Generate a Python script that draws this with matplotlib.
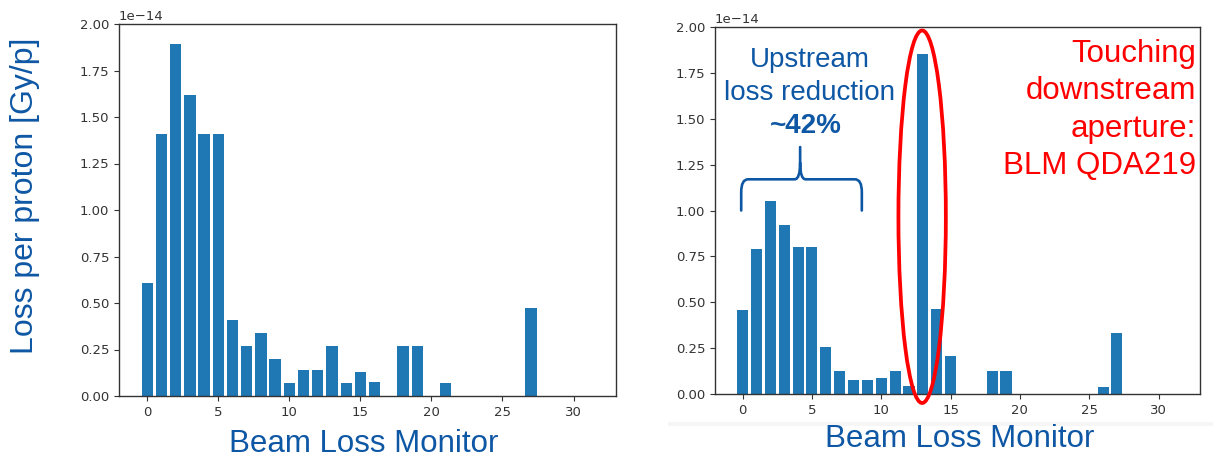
import numpy as np
import matplotlib
matplotlib.use("Agg")
import matplotlib.pyplot as plt
from matplotlib.patches import Ellipse, Rectangle, PathPatch
from matplotlib.path import Path

# ---- data (values in units of 1e-14 Gy/p) ----
monitors = list(range(32))
loss_before = [0.61, 1.41, 1.89, 1.62, 1.41, 1.41, 0.41, 0.27, 0.34, 0.20,
               0.068, 0.14, 0.14, 0.27, 0.068, 0.13, 0.073, 0.0, 0.27, 0.27,
               0.0, 0.068, 0.0, 0.0, 0.0, 0.0, 0.0, 0.475, 0.0, 0.0, 0.0, 0.0]
loss_after = [0.46, 0.79, 1.05, 0.92, 0.80, 0.80, 0.255, 0.127, 0.078, 0.078,
              0.089, 0.127, 0.045, 1.855, 0.462, 0.207, 0.0, 0.0, 0.127, 0.127,
              0.0, 0.0, 0.0, 0.0, 0.0, 0.0, 0.04, 0.332, 0.0, 0.0, 0.0, 0.0]
scale = 1e-14
xlabel_text = "Beam Loss Monitor"
ylabel_text = "Loss per proton [Gy/p]"
upstream_lines = ["Upstream", "loss reduction"]
reduction_text = "~42%"
touch_lines = ["Touching", "downstream", "aperture:", "BLM QDA219"]

BLUE = "#0E57A4"
RED = "#FF0000"
BAR = "#1f77b4"
W, H = 1213, 459

fig = plt.figure(figsize=(W / 100, H / 100), dpi=100)

def fx(px):
    return px / W

def fy(py):
    return (H - py) / H

ax1 = fig.add_axes([fx(119), fy(396), fx(616) - fx(119), fy(24) - fy(396)])
ax2 = fig.add_axes([fx(715), fy(394), fx(1200) - fx(715), fy(27) - fy(394)])

for ax, vals in ((ax1, loss_before), (ax2, loss_after)):
    ax.bar(monitors, np.array(vals) * scale, width=0.8, color=BAR)
    ax.set_ylim(0, 2.0e-14)
    ax.set_yticks(np.arange(0, 2.01, 0.25) * scale)
    ax.set_xticks([0, 5, 10, 15, 20, 25, 30])
    ax.tick_params(labelsize=9.5, colors="#333333", length=3.5)
    ax.yaxis.get_offset_text().set_fontsize(9.5)
    ax.yaxis.get_offset_text().set_color("#333333")
    for sp in ax.spines.values():
        sp.set_color("#333333")
        sp.set_linewidth(1.0)

# axis labels (slide text)
fig.text(fx(25), fy(196), ylabel_text, rotation=90, ha="center", va="center",
         fontsize=23, color=BLUE, family="Liberation Sans")
fig.text(fx(364), fy(452), xlabel_text, ha="center", va="baseline",
         fontsize=22.5, color=BLUE, family="Liberation Sans")
fig.text(fx(960), fy(447), xlabel_text, ha="center", va="baseline",
         fontsize=22.5, color=BLUE, family="Liberation Sans")

# faint screenshot band
fig.add_artist(Rectangle((fx(668), fy(426)), 1 - fx(668), fy(422) - fy(426),
                         transform=fig.transFigure, color="#f6f6f6", lw=0, zorder=0))

# upstream annotation
for txt, base in zip(upstream_lines, [66.7, 100]):
    fig.text(fx(810), fy(base), txt, ha="center", va="baseline",
             fontsize=20, color=BLUE, family="Liberation Sans")
fig.text(fx(806), fy(133), reduction_text, ha="center", va="baseline",
         fontsize=20, color=BLUE, family="Liberation Sans", weight="bold")

# curly brace (data coords of right axes)
s = scale
verts = [(-0.1, 1.0 * s), (-0.1, 1.10 * s),
         (-0.1, 1.17 * s), (0.4, 1.17 * s),
         (3.75, 1.17 * s),
         (4.15, 1.17 * s), (4.15, 1.26 * s),
         (4.15, 1.346 * s),
         (4.15, 1.26 * s),
         (4.15, 1.17 * s), (4.55, 1.17 * s),
         (8.1, 1.17 * s),
         (8.6, 1.17 * s), (8.6, 1.10 * s),
         (8.6, 1.0 * s)]
codes = [Path.MOVETO, Path.LINETO,
         Path.CURVE3, Path.CURVE3,
         Path.LINETO,
         Path.CURVE3, Path.CURVE3,
         Path.LINETO,
         Path.MOVETO,
         Path.CURVE3, Path.CURVE3,
         Path.LINETO,
         Path.CURVE3, Path.CURVE3,
         Path.LINETO]
ax2.add_patch(PathPatch(Path(verts, codes), fill=False, edgecolor=BLUE,
                        lw=1.9, clip_on=False, capstyle="round"))

# red ellipse around BLM 13
ax2.add_patch(Ellipse((12.95, 0.966 * s), 3.42, 2.03 * s, fill=False,
                      edgecolor=RED, lw=2.7, clip_on=False, zorder=5))

# red text
for txt, base in zip(touch_lines, [61.7, 99, 136.5, 174.5]):
    fig.text(fx(1196), fy(base), txt, ha="right", va="baseline",
             fontsize=22.5, color=RED, family="Liberation Sans")

fig.savefig("out.png", dpi=100)
